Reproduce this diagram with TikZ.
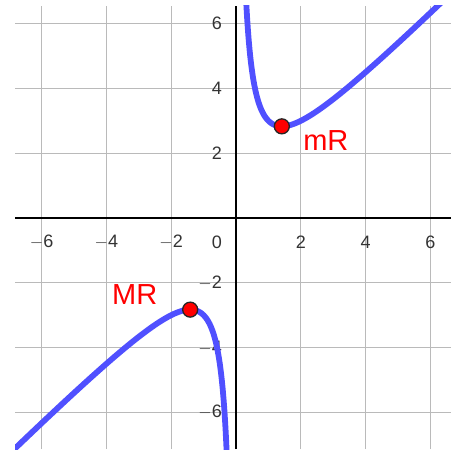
\documentclass[tikz,border=0pt]{standalone}
\usepackage{fontspec}
\setmainfont{Liberation Sans}
\begin{document}
\begin{tikzpicture}[x=32.4pt,y=32.4pt,
  gridline/.style={draw=black!27,line width=1.3pt},
  axisline/.style={draw=black,line width=2.9pt},
  curve/.style={draw={rgb,255:red,80;green,80;blue,255},line width=5.8pt},
  ticklab/.style={text=black!80,font=\fontsize{18}{18}\selectfont,inner sep=0pt},
  extpt/.style={circle,fill=red,draw=black!85,line width=1.3pt,minimum size=15pt,inner sep=0pt},
  extlab/.style={text=red,font=\fontsize{29}{29}\selectfont,inner sep=0pt,anchor=base west}]
\useasboundingbox (-7.284,-7.222) rectangle (6.975,6.728);
\def\xl{-6.82}\def\xr{6.636}\def\yb{-7.13}\def\yt{6.543}
% grid
\foreach \g in {-6,-4,-2,2,4,6} {
  \draw[gridline] (\g,\yb) -- (\g,\yt);
  \draw[gridline] (\xl,\g) -- (\xr,\g);
}
% axes
\coordinate (xa) at (\xl,0); \coordinate (xb) at (\xr,0);
\coordinate (ya) at (0,\yb); \coordinate (yb) at (0,\yt);
\draw[axisline] (xa) -- (xb);
\draw[axisline] (ya) -- (yb);
% tick labels
\foreach \g/\t in {-6/$-$6,-4/$-$4,-2/$-$2,2/2,4/4,6/6} {
  \node[ticklab] (tx\g) at (\g,-0.74) {\t};
}
\node[ticklab] (tx0) at (-0.59,-0.74) {0};
\foreach \g/\t in {-6/$-$6,-4/$-$4,-2/$-$2,2/2,4/4,6/6} {
  \node[ticklab,anchor=east] (ty\g) at (-0.43,\g) {\t};
}
% curve
\begin{scope}
\clip (\xl,\yb) rectangle (\xr,\yt);
\draw[curve,line cap=round] plot[domain=0.2:7,samples=300,smooth] (\x,{\x+2/\x});
\draw[curve,line cap=round] plot[domain=-7:-0.2,samples=300,smooth] (\x,{\x+2/\x});
\end{scope}
% extrema
\node[extpt] (mR) at (1.4142,2.8284) {};
\node[extpt] (MR) at (-1.4142,-2.8284) {};
\node[extlab] (mRl) at (2.07,2.07) {mR};
\node[extlab] (MRl) at (-3.83,-2.68) {MR};
\end{tikzpicture}
\end{document}
